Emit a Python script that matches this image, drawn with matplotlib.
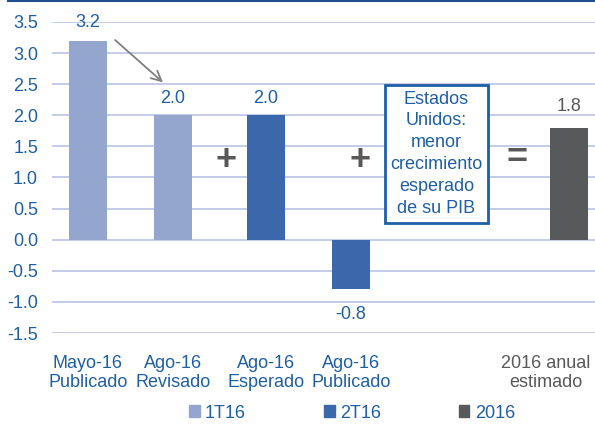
import numpy as np
import matplotlib.pyplot as plt
from matplotlib.patches import Patch
from matplotlib.lines import Line2D

plt.rcParams['font.family'] = ['Liberation Sans', 'DejaVu Sans']

# data
labels = ["Mayo-16\nPublicado", "Ago-16\nRevisado", "Ago-16\nEsperado",
          "Ago-16\nPublicado", "2016 anual\nestimado"]
values = [3.2, 2.0, 2.0, -0.8, 1.8]
series = ["1T16", "1T16", "2T16", "2T16", "2016"]
value_text = ["3.2", "2.0", "2.0", "-0.8", "1.8"]
box_text = "Estados\nUnidos:\nmenor\ncrecimiento\nesperado\nde su PIB"

# layout (x in chart units)
bar_x = [0.40, 1.344, 2.378, 3.322, 5.744]
label_x = [0.40, 1.344, 2.378, 3.322, 5.489]
label_off = [7, 6, 6, -12, 9]
colors = {"1T16": "#94A6CE", "2T16": "#3A68AB", "2016": "#58595B"}
blue = "#1F5FA6"
gray = "#595959"

fig = plt.figure(figsize=(5.95, 4.36), dpi=100)
ax = fig.add_axes([52/595, 1 - 333/436, 543/595, 311/436])

ax.bar(bar_x, values, width=0.42, color=[colors[s] for s in series], zorder=3)

# value labels
for i, (x, v, t) in enumerate(zip(bar_x, values, value_text)):
    ax.annotate(t, (x, v), xytext=(0, label_off[i]),
                textcoords="offset points", ha="center",
                va="bottom" if v > 0 else "top", fontsize=13,
                color=gray if series[i] == "2016" else blue)

ax.set_ylim(-1.5, 3.5)
ax.set_xlim(0, 543/90)
ax.set_yticks(np.arange(-1.5, 3.51, 0.5))
ax.set_yticklabels([f"{v:.1f}" for v in np.arange(-1.5, 3.51, 0.5)])
ax.tick_params(axis="y", length=0, pad=10, labelsize=13, labelcolor=blue)
ax.set_xticks(label_x)
ax.set_xticklabels(labels)
ax.tick_params(axis="x", length=0, pad=16, labelsize=13, labelcolor=blue)
ax.get_xticklabels()[-1].set_color(gray)
for lab in ax.get_xticklabels():
    lab.set_linespacing(1.15)
ax.grid(axis="y", color="#B7C3E3", lw=1.2, zorder=0)
for s in ax.spines.values():
    s.set_visible(False)

# arrow from Mayo to Ago revisado
ax.annotate("", xy=(1.256, 2.5), xytext=(0.678, 3.24),
            arrowprops=dict(arrowstyle="->", color="#7F7F7F", lw=1.3,
                            mutation_scale=18))

# operators
ax.text(1.933, 1.27, "+", fontsize=26, fontweight="heavy", color=gray,
        ha="center", va="center")
ax.text(3.422, 1.27, "+", fontsize=26, fontweight="heavy", color=gray,
        ha="center", va="center")
ax.text(5.167, 1.30, "=", fontsize=26, fontweight="heavy", color=gray,
        ha="center", va="center")

ax.text(4.272, 1.38, box_text, fontsize=13, color=blue, ha="center",
        va="center", linespacing=1.38,
        bbox=dict(boxstyle="square,pad=0.3", fc="white", ec="#1F5FA6", lw=2))

handles = [Patch(color=colors[k], label=k) for k in ["1T16", "2T16", "2016"]]
leg = fig.legend(handles=handles, loc="center", bbox_to_anchor=(352/595, 1 - 413/436),
                 ncol=3, frameon=False, fontsize=13, handlelength=0.6,
                 handleheight=0.6, handletextpad=0.3, columnspacing=4.3)
for t in leg.get_texts():
    t.set_color(blue)

fig.add_artist(Line2D([8/595, 1], [1 - 1.5/436, 1 - 1.5/436], color="#1F4E8C", lw=1.5))

fig.savefig("out.png", dpi=100)
